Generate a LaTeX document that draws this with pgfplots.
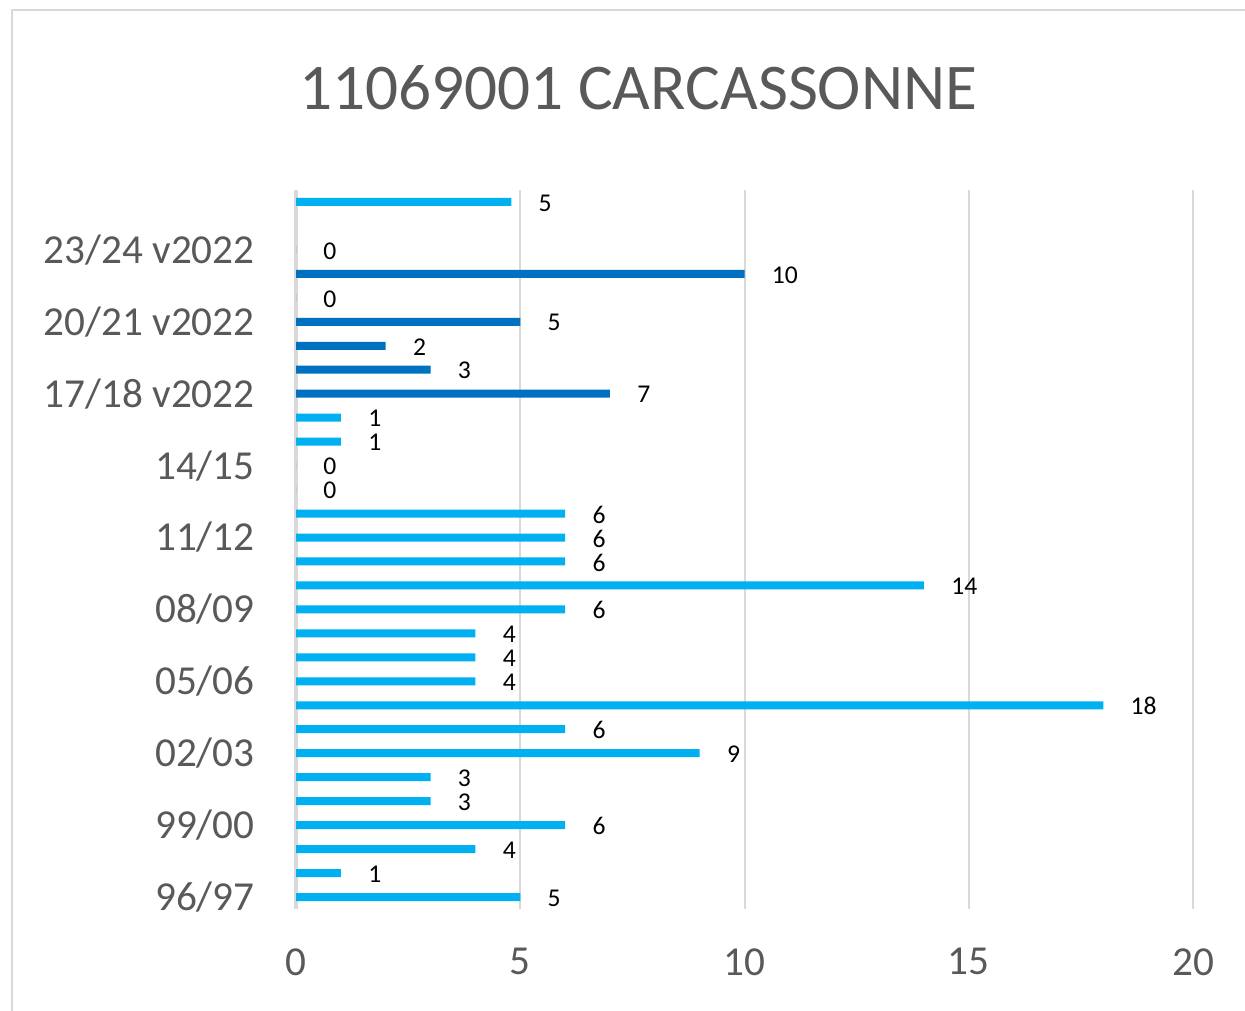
\documentclass[border=0pt]{standalone}
\usepackage{pgfplots}
\pgfplotsset{compat=1.18}
\usepackage{fontspec}
\setmainfont{Carlito}
\definecolor{lightb}{HTML}{00B0F0}
\definecolor{darkb}{HTML}{0070C0}
\definecolor{gridc}{HTML}{D9D9D9}
\definecolor{txt}{HTML}{595959}
\begin{document}
\begin{tikzpicture}
\useasboundingbox (0,0) rectangle (622.5pt,505pt);
\draw[gridc, line width=1pt] (6pt,-5pt) -- (6pt,500pt) -- (640pt,500pt);
\node[txt, font=\fontsize{32.6}{38}\selectfont] at (319pt,461pt) {11069001 CARCASSONNE};
\begin{axis}[
 at={(148pt,50.5pt)}, anchor=south west, scale only axis,
 width=448.5pt, height=359.5pt,
 xbar, bar width=4pt, bar shift=0pt,
 xmin=0, xmax=20, ymin=-0.5, ymax=29.5,
 xtick={0,5,10,15,20},
 ytick={0,3,...,27},
 yticklabels={96/97,99/00,02/03,05/06,08/09,11/12,14/15,17/18 v2022,20/21 v2022,23/24 v2022},
 major tick length=0pt,
 axis line style={draw=none},
 xmajorgrids, grid style={gridc, line width=1pt},
 extra x ticks={0}, extra x tick labels={}, extra x tick style={grid style={gridc,line width=1.6pt}},
 tick label style={txt, font=\fontsize{20.6}{21}\selectfont, inner sep=0pt},
 yticklabel style={anchor=east, xshift=-20.5pt},
 xticklabel style={anchor=north, yshift=-19.5pt},
 /pgf/number format/assume math mode=true,
 /pgf/number format/fixed, /pgf/number format/precision=0,
 nodes near coords,
 nodes near coords style={black, font=\fontsize{12.8}{13}\selectfont, anchor=west, inner sep=0pt, xshift=13.5pt, yshift=-0.5pt},
]
\addplot[draw=none, fill=lightb] coordinates {
(5,0) (1,1) (4,2) (6,3) (3,4) (3,5) (9,6) (6,7) (18,8) (4,9) (4,10) (4,11) (6,12) (14,13) (6,14) (6,15) (6,16) (0,17) (0,18) (1,19) (1,20) (4.8,29)};
\addplot[draw=none, fill=darkb] coordinates {
(7,21) (3,22) (2,23) (5,24) (0,25) (10,26) (0,27)};
\end{axis}
\end{tikzpicture}
\end{document}
